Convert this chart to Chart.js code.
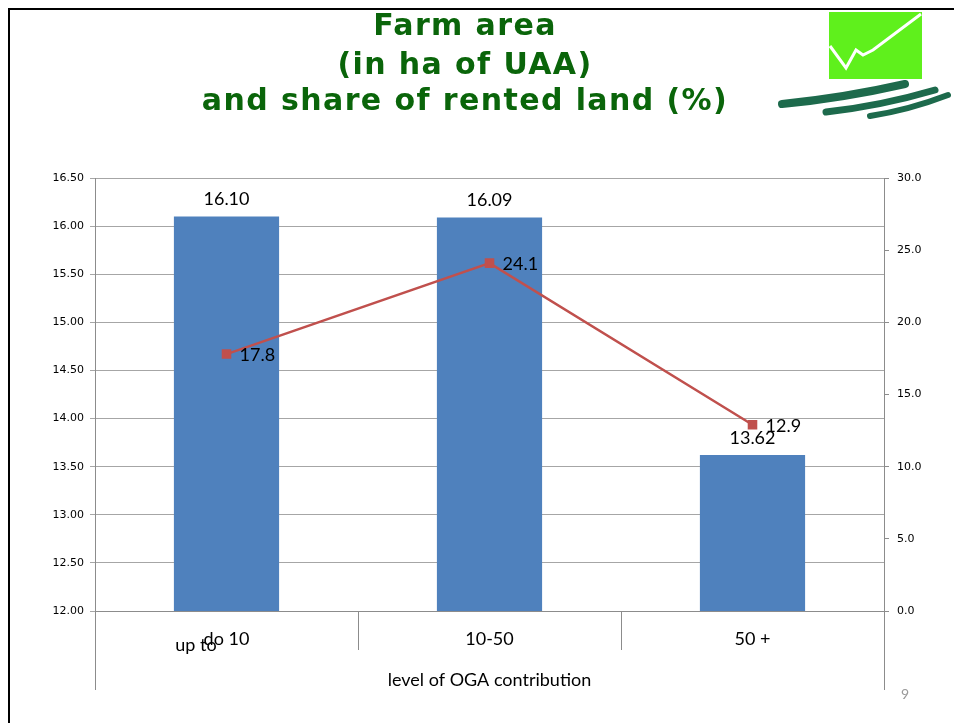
<!DOCTYPE html>
<html>
<head>
<meta charset="utf-8">
<script src="https://cdn.jsdelivr.net/npm/chart.js@4.4.0/dist/chart.umd.min.js"></script>
<style>
  html, body { margin: 0; padding: 0; background: #fff; }
  #wrap { width: 954px; height: 723px; position: relative; }
</style>
</head>
<body>
<div id="wrap"><canvas id="grafico"></canvas></div>
<script>
// datos
const categorias = ['do 10', '10-50', '50 +'];
const superficie = [16.10, 16.09, 13.62];   // ha de SAU (eje izq.)
const arrendada = [17.8, 24.1, 12.9];       // % tierra arrendada (eje der.)
const ticksIzq = [12.0, 12.5, 13.0, 13.5, 14.0, 14.5, 15.0, 15.5, 16.0, 16.5];
const ticksDer = [0, 5, 10, 15, 20, 25, 30];

const titulo = ['Farm area', '(in ha of UAA)', 'and share of rented land (%)'];
const tituloEje = 'level of OGA contribution';
const etiquetaExtra = 'up to';
const pagina = '9';

const fuente = 'Lato, "Open Sans", sans-serif';

const diapositiva = {
    id: 'diapositiva',
    beforeDraw(chart) {
        const ctx = chart.ctx;
        ctx.save();
        ctx.fillStyle = '#fff';
        ctx.fillRect(0, 0, chart.width, chart.height);

        // marco
        ctx.strokeStyle = '#000';
        ctx.lineWidth = 2;
        ctx.beginPath();
        ctx.moveTo(9, 723);
        ctx.lineTo(9, 9);
        ctx.lineTo(954, 9);
        ctx.stroke();

        // titulo
        ctx.fillStyle = '#0a650a';
        ctx.font = 'bold 30px "DejaVu Sans", sans-serif';
        ctx.letterSpacing = '1.4px';
        ctx.textAlign = 'center';
        ctx.textBaseline = 'middle';
        ctx.fillText(titulo[0], 465, 27);
        ctx.fillText(titulo[1], 465, 66);
        ctx.fillText(titulo[2], 465, 102);
        ctx.letterSpacing = '0px';

        // logo
        ctx.fillStyle = '#5ff01c';
        ctx.fillRect(829, 12, 93, 67);
        ctx.strokeStyle = '#fff';
        ctx.lineWidth = 3;
        ctx.beginPath();
        ctx.moveTo(830, 46);
        ctx.lineTo(846, 68);
        ctx.lineTo(856, 50);
        ctx.lineTo(863, 55);
        ctx.lineTo(873, 50);
        ctx.lineTo(921, 14);
        ctx.stroke();
        ctx.strokeStyle = '#1d6a4c';
        ctx.lineCap = 'round';
        const trazos = [[782, 104, 905, 84, 8], [826, 112, 935, 90, 7], [870, 116, 948, 95, 6]];
        trazos.forEach(t => {
            ctx.lineWidth = t[4];
            ctx.beginPath();
            ctx.moveTo(t[0], t[1]);
            ctx.quadraticCurveTo((t[0] + t[2]) / 2, t[1] - 6, t[2], t[3]);
            ctx.stroke();
        });
        ctx.restore();
    },
    afterDraw(chart) {
        const ctx = chart.ctx;
        const area = chart.chartArea;
        const x = chart.scales.x;
        ctx.save();
        ctx.strokeStyle = '#8c8c8c';
        ctx.lineWidth = 1;
        // separadores de categorias bajo el eje
        for (let i = 0; i <= categorias.length; i++) {
            let px;
            if (i === 0) px = area.left;
            else if (i === categorias.length) px = area.right;
            else px = (x.getPixelForTick(i - 1) + x.getPixelForTick(i)) / 2;
            const fin = (i === 0 || i === categorias.length) ? 690 : 650;
            ctx.beginPath();
            ctx.moveTo(Math.round(px) + 0.5, area.bottom);
            ctx.lineTo(Math.round(px) + 0.5, fin);
            ctx.stroke();
        }
        ctx.fillStyle = '#000';
        ctx.font = '18px ' + fuente;
        ctx.textAlign = 'center';
        ctx.textBaseline = 'middle';
        ctx.fillText(tituloEje, (area.left + area.right) / 2, 680);
        ctx.fillText(etiquetaExtra, 196, 645);
        ctx.fillStyle = '#999';
        ctx.font = '14px ' + fuente;
        ctx.fillText(pagina, 905, 694);
        ctx.restore();
    },
    afterDatasetsDraw(chart) {
        const ctx = chart.ctx;
        ctx.save();
        ctx.fillStyle = '#000';
        ctx.font = '18px ' + fuente;
        ctx.textBaseline = 'middle';
        chart.getDatasetMeta(1).data.forEach((el, i) => {
            ctx.textAlign = 'center';
            ctx.fillText(superficie[i].toFixed(2), el.x, el.y - 17);
        });
        chart.getDatasetMeta(0).data.forEach((el, i) => {
            ctx.textAlign = 'left';
            ctx.fillText(arrendada[i].toFixed(1), el.x + 13, el.y + 1);
        });
        ctx.restore();
    }
};

const canvas = document.getElementById('grafico');

new Chart(canvas, {
    type: 'bar',
    data: {
        labels: categorias,
        datasets: [{
            type: 'line',
            label: 'rented land (%)',
            data: arrendada,
            yAxisID: 'y1',
            borderColor: '#C0504D',
            backgroundColor: '#C0504D',
            borderWidth: 2.5,
            pointStyle: 'rect',
            pointRadius: 5,
            pointHoverRadius: 5,
            tension: 0,
            order: 0
        }, {
            type: 'bar',
            label: 'ha of UAA',
            data: superficie,
            yAxisID: 'y',
            backgroundColor: '#4F81BD',
            barPercentage: 0.4,
            categoryPercentage: 1,
            order: 1
        }]
    },
    options: {
        responsive: true,
        maintainAspectRatio: false,
        animation: false,
        layout: { padding: { top: 178, left: 0, right: 0, bottom: 0 } },
        plugins: {
            legend: { display: false },
            tooltip: { enabled: false }
        },
        scales: {
            x: {
                grid: { display: true, drawOnChartArea: false, drawTicks: false },
                border: { color: '#8c8c8c' },
                ticks: {
                    color: '#000',
                    font: { size: 18, family: fuente },
                    padding: 17
                },
                afterFit: s => { s.height = 112; }
            },
            y: {
                position: 'left',
                min: 12,
                max: 16.5,
                afterBuildTicks: s => { s.ticks = ticksIzq.map(v => ({ value: v })); },
                ticks: {
                    color: '#000',
                    font: { size: 11, family: '"DejaVu Sans", sans-serif' },
                    padding: 6,
                    callback: v => v.toFixed(2)
                },
                grid: { color: '#a6a6a6', tickLength: 5 },
                border: { color: '#8c8c8c' },
                afterFit: s => { s.width = 95; }
            },
            y1: {
                position: 'right',
                min: 0,
                max: 30,
                afterBuildTicks: s => { s.ticks = ticksDer.map(v => ({ value: v })); },
                ticks: {
                    color: '#000',
                    font: { size: 11, family: '"DejaVu Sans", sans-serif' },
                    padding: 8,
                    callback: v => v.toFixed(1)
                },
                grid: { drawOnChartArea: false, tickLength: 5, color: '#8c8c8c' },
                border: { color: '#8c8c8c' },
                afterFit: s => { s.width = 70; }
            }
        }
    },
    plugins: [diapositiva]
});
</script>
</body>
</html>
